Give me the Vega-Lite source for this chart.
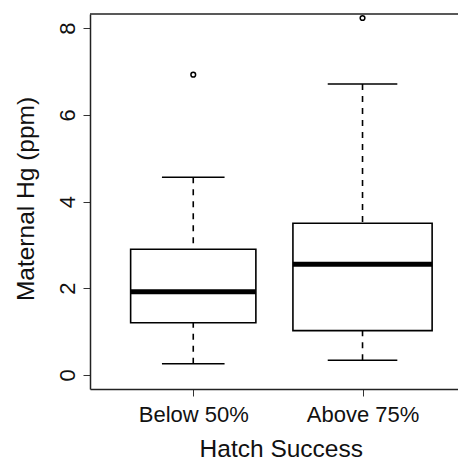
{
  "$schema": "https://vega.github.io/schema/vega-lite/v6.json",
  "width": 368,
  "height": 375,
  "autosize": "none",
  "padding": {"left": 90, "top": 14, "right": 0, "bottom": 70},
  "background": "white",
  "config": {
    "view": {"stroke": null},
    "font": "Liberation Sans",
    "axis": {"grid": false}
  },
  "datasets": {
    "stats": [
      {"group": "Below 50%", "pos": 1, "n": 17, "lo": 0.26, "q1": 1.206, "med": 1.918, "q3": 2.898, "hi": 4.558},
      {"group": "Above 75%", "pos": 2, "n": 21, "lo": 0.339, "q1": 1.022, "med": 2.555, "q3": 3.5, "hi": 6.709}
    ],
    "outliers": [
      {"group": "Below 50%", "pos": 1, "value": 6.924},
      {"group": "Above 75%", "pos": 2, "value": 8.231}
    ]
  },
  "layer": [
    {
      "data": {"name": "stats"},
      "mark": {"type": "rule", "strokeDash": [6, 6], "strokeWidth": 1.6, "color": "black"},
      "encoding": {
        "x": {
          "field": "pos", "type": "quantitative",
          "scale": {"domain": [0.41954, 2.53448], "nice": false, "zero": false},
          "title": "Hatch Success",
          "axis": {
            "values": [1, 2],
            "labelExpr": "datum.value == 1 ? 'Below 50%' : 'Above 75%'",
            "tickSize": 7, "tickColor": "#333", "tickWidth": 1,
            "domainColor": "#222", "domainWidth": 1.5,
            "labelFont": "Liberation Sans", "labelFontSize": 22, "labelColor": "#111",
            "labelBaseline": "alphabetic", "labelPadding": 25,
            "labelFlush": false, "labelOverlap": false,
            "titleFont": "Liberation Sans", "titleFontSize": 24.5, "titleFontWeight": "normal", "titleColor": "#111",
            "titleX": 190.8, "titleY": 67.7, "titleAlign": "center", "titleBaseline": "alphabetic"
          }
        },
        "y": {
          "field": "lo", "type": "quantitative",
          "scale": {"domain": [-0.3228, 8.3228], "nice": false, "zero": false},
          "title": "Maternal Hg (ppm)",
          "axis": {
            "values": [0, 2, 4, 6, 8],
            "tickSize": 7, "tickColor": "#333", "tickWidth": 1,
            "domainColor": "#222", "domainWidth": 1.5,
            "labelFont": "Liberation Sans", "labelFontSize": 22, "labelColor": "#111",
            "labelAngle": -90, "labelAlign": "center", "labelBaseline": "alphabetic", "labelPadding": 9,
            "labelFlush": false, "labelOverlap": false,
            "titleFont": "Liberation Sans", "titleFontSize": 24.5, "titleFontWeight": "normal", "titleColor": "#111",
            "titleAngle": -90, "titleX": -56.8, "titleY": 184.5, "titleAlign": "center", "titleBaseline": "alphabetic"
          }
        },
        "y2": {"field": "q1"}
      }
    },
    {
      "data": {"name": "stats"},
      "mark": {"type": "rule", "strokeDash": [6, 6], "strokeWidth": 1.6, "color": "black"},
      "encoding": {
        "x": {"field": "pos", "type": "quantitative", "title": "Hatch Success"},
        "y": {"field": "hi", "type": "quantitative", "title": "Maternal Hg (ppm)"},
        "y2": {"field": "q3"}
      }
    },
    {
      "data": {"name": "stats"},
      "mark": {"type": "tick", "orient": "horizontal", "thickness": 1.6, "color": "black", "opacity": 1},
      "encoding": {
        "x": {"field": "pos", "type": "quantitative", "title": "Hatch Success"},
        "y": {"field": "lo", "type": "quantitative", "title": "Maternal Hg (ppm)"},
        "size": {"field": "n", "type": "quantitative", "scale": {"type": "sqrt", "domain": [0, 21], "range": [0, 69.6], "zero": true}, "legend": null}
      }
    },
    {
      "data": {"name": "stats"},
      "mark": {"type": "tick", "orient": "horizontal", "thickness": 1.6, "color": "black", "opacity": 1},
      "encoding": {
        "x": {"field": "pos", "type": "quantitative", "title": "Hatch Success"},
        "y": {"field": "hi", "type": "quantitative", "title": "Maternal Hg (ppm)"},
        "size": {"field": "n", "type": "quantitative", "scale": {"type": "sqrt", "domain": [0, 21], "range": [0, 69.6], "zero": true}, "legend": null}
      }
    },
    {
      "data": {"name": "stats"},
      "mark": {"type": "bar", "fill": "white", "stroke": "black", "strokeWidth": 1.6},
      "encoding": {
        "x": {"field": "pos", "type": "quantitative", "title": "Hatch Success"},
        "y": {"field": "q1", "type": "quantitative", "title": "Maternal Hg (ppm)"},
        "y2": {"field": "q3"},
        "size": {"field": "n", "type": "quantitative", "scale": {"type": "sqrt", "domain": [0, 21], "range": [0, 139.2], "zero": true}, "legend": null}
      }
    },
    {
      "data": {"name": "stats"},
      "mark": {"type": "tick", "orient": "horizontal", "thickness": 5, "color": "black", "opacity": 1},
      "encoding": {
        "x": {"field": "pos", "type": "quantitative", "title": "Hatch Success"},
        "y": {"field": "med", "type": "quantitative", "title": "Maternal Hg (ppm)"},
        "size": {"field": "n", "type": "quantitative", "scale": {"type": "sqrt", "domain": [0, 21], "range": [0, 139.2], "zero": true}, "legend": null}
      }
    },
    {
      "data": {"name": "outliers"},
      "mark": {"type": "point", "shape": "circle", "filled": false, "stroke": "black", "strokeWidth": 1.5, "size": 22, "opacity": 1},
      "encoding": {
        "x": {"field": "pos", "type": "quantitative", "title": "Hatch Success"},
        "y": {"field": "value", "type": "quantitative", "title": "Maternal Hg (ppm)"}
      }
    },
    {
      "data": {"values": [{}]},
      "mark": {"type": "rule", "color": "#222", "strokeWidth": 1.5},
      "encoding": {
        "y": {"datum": 8.3228, "type": "quantitative"}
      }
    }
  ],
  "resolve": {"scale": {"size": "independent"}}
}
